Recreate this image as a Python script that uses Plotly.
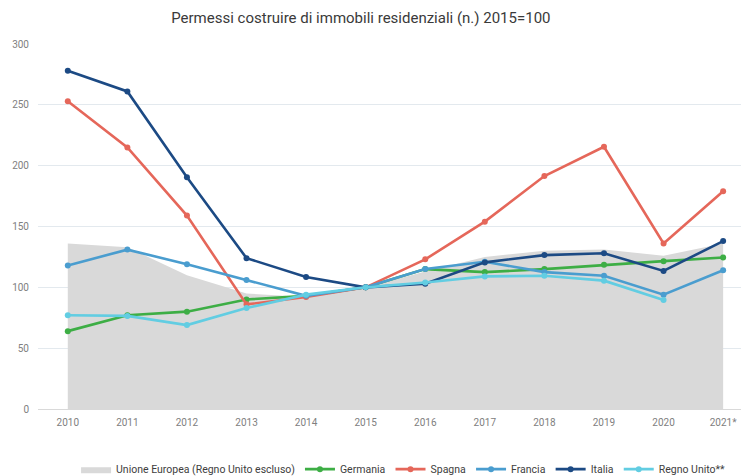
import plotly.graph_objects as go

years = ["2010", "2011", "2012", "2013", "2014", "2015", "2016", "2017", "2018", "2019", "2020", "2021*"]
ue = [136, 133, 110, 95, 92, 100, 113, 125, 130, 131, 126, 136]
germania = [64, 77, 80, 90, 93, 100, 115, 112.5, 115, 118.5, 121.5, 124.5]
spagna = [253, 215, 159, 86, 92, 100, 123, 154, 191.5, 215.5, 136, 179]
francia = [118, 131, 119, 106, 93, 100, 115, 121, 112.5, 109.5, 94, 114]
italia = [278, 261, 190.5, 124, 108.5, 100, 103, 120.5, 126.5, 128, 113.5, 138]
regno_unito = [77, 76.5, 69, 83, 94, 100, 104, 109, 109.5, 105.5, 89.5, None]

x = list(range(len(years)))
FONT = "Roboto, Open Sans, sans-serif"

fig = go.Figure()
fig.add_trace(go.Scatter(x=x, y=ue, name="Unione Europea (Regno Unito escluso)",
                         mode="lines", fill="tozeroy", fillcolor="#D9D9D9",
                         line=dict(color="#D9D9D9", width=0)))
series = [
    ("Germania", germania, "#3DAE45"),
    ("Spagna", spagna, "#E5675A"),
    ("Francia", francia, "#4A9DCF"),
    ("Italia", italia, "#1C4A84"),
    ("Regno Unito**", regno_unito, "#62CDE2"),
]
for name, vals, col in series:
    fig.add_trace(go.Scatter(x=x, y=vals, name=name, mode="lines+markers",
                             line=dict(color=col, width=2.6),
                             marker=dict(color=col, size=6)))

fig.update_layout(
    width=741, height=476,
    margin=dict(l=38, r=0, t=44, b=67, autoexpand=False),
    paper_bgcolor="white", plot_bgcolor="white",
    font=dict(family=FONT, color="#808080", size=10),
    title=dict(text="Permessi costruire di immobili residenziali (n.) 2015=100",
               x=0.487, xanchor="center", y=0.962, yanchor="middle",
               font=dict(family=FONT, size=15, color="#3A3A3A")),
    xaxis=dict(range=[-0.5, 11.3], tickvals=x, ticktext=years, showgrid=False,
               zeroline=False, showline=True, linecolor="#D9D9D9", linewidth=1,
               ticks="", tickfont=dict(size=10, color="#808080"), ticklabelstandoff=4,
               automargin=False),
    yaxis=dict(range=[0, 300], dtick=50, showgrid=True, gridcolor="#E3E9EE",
               gridwidth=1, zeroline=False, ticks="", showline=False,
               tickfont=dict(size=10, color="#808080"), ticklabelstandoff=8,
               automargin=False),
    legend=dict(orientation="h", x=0.52, xanchor="center", y=-0.125, yanchor="top",
                font=dict(family=FONT, size=10.5, color="#404040"),
                itemwidth=30, tracegroupgap=0, traceorder="normal"),
    showlegend=True,
)

fig.write_html("out.html", config={"displayModeBar": False},
               post_script="document.body.style.margin='0px';document.body.style.padding='0px';")
